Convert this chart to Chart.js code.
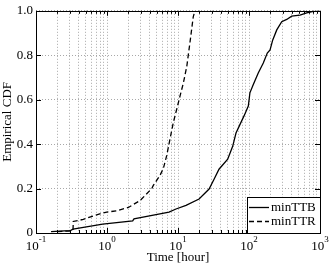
<!DOCTYPE html>
<html>
<head>
<meta charset="utf-8">
<script src="https://cdn.jsdelivr.net/npm/chart.js@4/dist/chart.umd.min.js"></script>
<style>
  html, body { margin: 0; padding: 0; background: #fff; }
  #wrap { width: 332px; height: 265px; }
</style>
</head>
<body>
<div id="wrap"><canvas id="cdf" width="332" height="265"></canvas></div>
<script>
// values
const ttbTime = [0.163, 0.251, 0.301, 0.332, 0.366, 0.869, 2.30, 2.40, 4.90, 7.47, 9.37, 12.97, 19.8, 27.4, 32.2, 37.8, 50.1, 58.9, 65.6, 85.1, 97.8, 103, 115, 135, 159, 181, 198, 216, 246, 289, 340, 399, 522, 650, 805, 1000];
const ttbCdf = [0.006, 0.010, 0.010, 0.017, 0.020, 0.040, 0.055, 0.064, 0.083, 0.094, 0.108, 0.124, 0.153, 0.198, 0.242, 0.287, 0.332, 0.39, 0.45, 0.527, 0.571, 0.631, 0.668, 0.72, 0.765, 0.81, 0.824, 0.869, 0.914, 0.951, 0.961, 0.976, 0.981, 0.991, 0.997, 1.0];
const ttrTime = [0.20, 0.30, 0.332, 0.335, 0.463, 0.716, 0.99, 1.37, 2.0, 2.92, 4.27, 4.49, 5.57, 6.21, 6.93, 7.71, 8.59, 9.59, 10.67, 11.9, 13.3, 14.8, 16.4, 17.3];
const ttrCdf = [0.006, 0.010, 0.012, 0.052, 0.061, 0.082, 0.094, 0.100, 0.115, 0.146, 0.200, 0.214, 0.259, 0.290, 0.348, 0.423, 0.497, 0.557, 0.616, 0.675, 0.75, 0.862, 0.973, 1.0];
const seriesNames = ["minTTB", "minTTR"];
const xDecades = [0.1, 1, 10, 100, 1000];
const yTicks = [0, 0.2, 0.4, 0.6, 0.8, 1];
const xLabel = "Time [hour]";
const yLabel = "Empirical CDF";

const FONT = "'Liberation Serif', 'Times New Roman', serif";

function pairs(xs, ys) {
  return xs.map((x, i) => ({ x: x, y: ys[i] }));
}

// all 1..9 x 10^n positions for the log grid
function logTicks() {
  const out = [];
  for (let e = -1; e < 3; e++) {
    for (let m = 1; m < 10; m++) out.push(+(m * Math.pow(10, e)).toPrecision(3));
  }
  out.push(1000);
  return out;
}

// frame, inward ticks, superscript x labels and the legend box
const matlabLook = {
  id: "matlabLook",
  afterDatasetsDraw(chart) {
    const ctx = chart.ctx;
    const a = chart.chartArea;
    const xs = chart.scales.x;
    const ys = chart.scales.y;
    ctx.save();
    ctx.strokeStyle = "#000";
    ctx.lineWidth = 1;

    // inward ticks
    ctx.beginPath();
    logTicks().forEach((v) => {
      const px = Math.round(xs.getPixelForValue(v)) + 0.5;
      const major = xDecades.indexOf(v) >= 0;
      const len = major ? 5 : 3;
      ctx.moveTo(px, a.bottom);
      ctx.lineTo(px, a.bottom - len);
      ctx.moveTo(px, a.top);
      ctx.lineTo(px, a.top + len);
    });
    yTicks.forEach((v) => {
      const py = Math.round(ys.getPixelForValue(v)) + 0.5;
      ctx.moveTo(a.left, py);
      ctx.lineTo(a.left + 5, py);
      ctx.moveTo(a.right, py);
      ctx.lineTo(a.right - 5, py);
    });
    ctx.stroke();

    // frame
    ctx.strokeRect(Math.round(a.left) + 0.5, Math.round(a.top) + 0.5,
      Math.round(a.right - a.left), Math.round(a.bottom - a.top));

    // x tick labels 10^n
    ctx.fillStyle = "#000";
    ctx.textBaseline = "middle";
    ctx.textAlign = "left";
    xDecades.forEach((v) => {
      const px = xs.getPixelForValue(v);
      const e = String(Math.round(Math.log10(v)));
      ctx.font = "13px " + FONT;
      const wb = ctx.measureText("10").width;
      ctx.font = "9px " + FONT;
      const we = ctx.measureText(e).width;
      const x0 = px - (wb + we) / 2;
      ctx.font = "13px " + FONT;
      ctx.fillText("10", x0, a.bottom + 13.5);
      ctx.font = "9px " + FONT;
      ctx.fillText(e, x0 + wb, a.bottom + 6.5);
    });

    // legend
    const lx = 247, ly = 197, lw = Math.round(a.right) - lx, lh = Math.round(a.bottom) - ly;
    ctx.fillStyle = "#fff";
    ctx.fillRect(lx, ly, lw, lh);
    ctx.strokeRect(lx + 0.5, ly + 0.5, lw, lh);
    chart.data.datasets.forEach((ds, i) => {
      const cy = ly + 10.5 + i * 14;
      ctx.save();
      ctx.lineWidth = ds.borderWidth;
      ctx.setLineDash(ds.borderDash || []);
      ctx.beginPath();
      ctx.moveTo(lx + 2, cy);
      ctx.lineTo(lx + 22, cy);
      ctx.stroke();
      ctx.restore();
      ctx.fillStyle = "#000";
      ctx.font = "13px " + FONT;
      ctx.textBaseline = "middle";
      ctx.fillText(ds.label, lx + 24, cy + 0.5);
    });
    ctx.restore();
  },
};

new Chart(document.getElementById("cdf").getContext("2d"), {
  type: "line",
  data: {
    datasets: [
      {
        label: seriesNames[0],
        data: pairs(ttbTime, ttbCdf),
        borderColor: "#000",
        borderWidth: 1.3,
        pointRadius: 0,
        tension: 0,
      },
      {
        label: seriesNames[1],
        data: pairs(ttrTime, ttrCdf),
        borderColor: "#000",
        borderWidth: 1.3,
        borderDash: [5, 3],
        pointRadius: 0,
        tension: 0,
      },
    ],
  },
  options: {
    responsive: false,
    maintainAspectRatio: false,
    animation: false,
    layout: { padding: { top: 9, right: 12, left: 0, bottom: 0 } },
    plugins: { legend: { display: false }, tooltip: { enabled: false } },
    scales: {
      x: {
        type: "logarithmic",
        min: 0.1,
        max: 1000,
        afterBuildTicks: (s) => { s.ticks = logTicks().map((v) => ({ value: v })); },
        afterFit: (s) => { s.height = 32; },
        ticks: { autoSkip: false, maxRotation: 0, callback: () => "" },
        grid: { color: "#a8a8a8", lineWidth: 1, drawTicks: false },
        border: { display: false, dash: [1, 2] },
        title: {
          display: true,
          text: xLabel,
          color: "#000",
          font: { family: FONT, size: 13 },
          padding: { top: 0, bottom: 0 },
        },
      },
      y: {
        min: 0,
        max: 1,
        afterBuildTicks: (s) => { s.ticks = yTicks.map((v) => ({ value: v })); },
        afterFit: (s) => { s.width = 36; },
        ticks: { color: "#000", padding: 3, font: { family: FONT, size: 13 } },
        grid: { color: "#a8a8a8", lineWidth: 1, drawTicks: false },
        border: { display: false, dash: [1, 2] },
        title: {
          display: true,
          text: yLabel,
          color: "#000",
          font: { family: FONT, size: 13 },
          padding: { top: 0, bottom: 0 },
        },
      },
    },
  },
  plugins: [matlabLook],
});
</script>
</body>
</html>
